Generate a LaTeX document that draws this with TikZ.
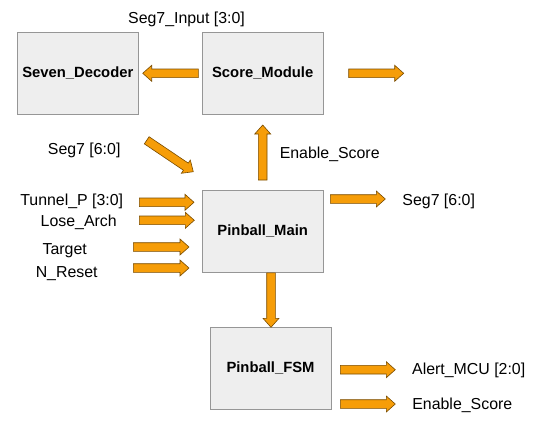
\documentclass[tikz,border=0pt]{standalone}
\usepackage{fontspec}
\setmainfont{Liberation Sans}
\usetikzlibrary{calc}
\definecolor{arrowfill}{RGB}{246,157,8}
\definecolor{arrowline}{RGB}{120,75,0}
\definecolor{boxfill}{RGB}{238,238,238}
\definecolor{boxline}{RGB}{150,150,150}
\tikzset{
  block/.style={draw=boxline, fill=boxfill, line width=0.9pt, minimum width=121pt, inner sep=0pt,
    font=\fontsize{14.8}{16}\selectfont\bfseries},
  lbl/.style={inner sep=0pt, anchor=base, font=\fontsize{15.9}{18}\selectfont},
  barrow/.style={draw=arrowline, fill=arrowfill, line width=0.6pt, line join=miter},
}
% block arrow from #1 (tail) to #2 (tip)
\newcommand\blockarrow[2]{%
  \coordinate (hb) at ($(#2)!9pt!(#1)$);
  \draw[barrow] ($(#1)!4.3pt!90:(#2)$) -- ($(hb)!4.3pt!90:(#2)$) -- ($(hb)!8pt!90:(#2)$) -- (#2)
    -- ($(hb)!8pt!-90:(#2)$) -- ($(hb)!4.3pt!-90:(#2)$) -- ($(#1)!4.3pt!-90:(#2)$) -- cycle;}
\begin{document}
\begin{tikzpicture}[x=1pt,y=-1pt]
\useasboundingbox (0,0) rectangle (534,426);
% boxes
\node[block, minimum height=81.7pt] (seven) at (77.8,73.2) {Seven\_Decoder};
\node[block, minimum height=81.7pt] (score) at (262.7,73.2) {Score\_Module};
\node[block, minimum height=81.6pt] (main) at (262.7,231.5) {Pinball\_Main};
\node[block, minimum height=82.4pt] (fsm) at (270.5,368.5) {Pinball\_FSM};
% labels
\node[lbl] (lseginput) at (186.5,23) {Seg7\_Input [3:0]};
\node[lbl] (lsegl) at (84.2,154.7) {Seg7 [6:0]};
\node[lbl] (lenup) at (329.7,158.4) {Enable\_Score};
\node[lbl] (lsegr) at (438.7,205.7) {Seg7 [6:0]};
\node[lbl] (ltunnel) at (71.7,205.7) {Tunnel\_P [3:0]};
\node[lbl] (llose) at (78.7,226) {Lose\_Arch};
\node[lbl] (ltarget) at (64.7,254.7) {Target};
\node[lbl] (lreset) at (66.7,277) {N\_Reset};
\node[lbl] (lalert) at (468.7,374.7) {Alert\_MCU [2:0]};
\node[lbl] (lendn) at (462.3,409.7) {Enable\_Score};
% arrow end points
\coordinate (a1t) at (198.3,73.3); \coordinate (a1h) at (142.7,73.3);
\coordinate (a2t) at (348.7,73.3); \coordinate (a2h) at (403.7,73.3);
\coordinate (a3t) at (146.7,140.3); \coordinate (a3h) at (193.3,171.7);
\coordinate (a4t) at (262.7,180); \coordinate (a4h) at (262.7,125);
\coordinate (a5t) at (330.3,199); \coordinate (a5h) at (385.3,199);
\coordinate (a6t) at (139.3,202.3); \coordinate (a6h) at (194,202.3);
\coordinate (a7t) at (139.3,220.3); \coordinate (a7h) at (194.3,220.3);
\coordinate (a8t) at (133.3,247); \coordinate (a8h) at (189,247);
\coordinate (a9t) at (133.3,268); \coordinate (a9h) at (189,268);
\coordinate (a10t) at (271,272.8); \coordinate (a10h) at (271,327.3);
\coordinate (a11t) at (340.3,369.7); \coordinate (a11h) at (395.3,369.7);
\coordinate (a12t) at (340.3,404); \coordinate (a12h) at (395.3,404);
\blockarrow{a1t}{a1h}
\blockarrow{a2t}{a2h}
\blockarrow{a3t}{a3h}
\blockarrow{a4t}{a4h}
\blockarrow{a5t}{a5h}
\blockarrow{a6t}{a6h}
\blockarrow{a7t}{a7h}
\blockarrow{a8t}{a8h}
\blockarrow{a9t}{a9h}
\blockarrow{a10t}{a10h}
\blockarrow{a11t}{a11h}
\blockarrow{a12t}{a12h}
\end{tikzpicture}
\end{document}
